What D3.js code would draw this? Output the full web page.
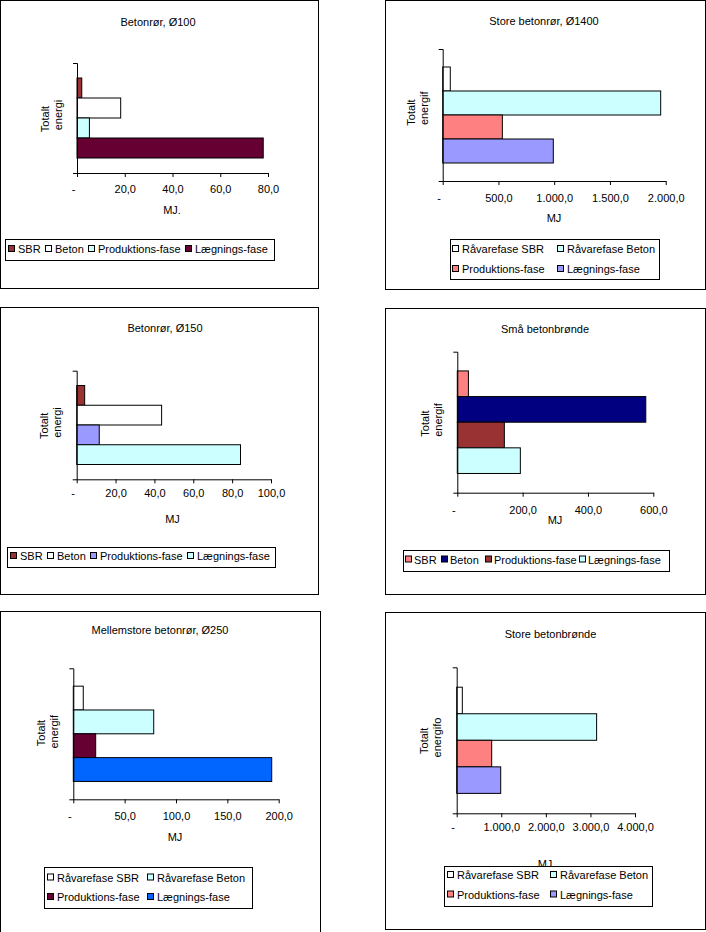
<!DOCTYPE html>
<html>
<head>
<meta charset="utf-8">
<script src="https://cdn.jsdelivr.net/npm/d3@7"></script>
<style>
body { margin: 0; background: #fff; }
svg text { font-family: "Liberation Sans", Arial, sans-serif; font-size: 11px; fill: #000; }
</style>
</head>
<body>
<div id="chart"></div>
<script>
// series names (two legend variants)
const seriesShort = ["SBR", "Beton", "Produktions-fase", "Lægnings-fase"];
const seriesLong = ["Råvarefase SBR", "Råvarefase Beton", "Produktions-fase", "Lægnings-fase"];

const titles = ["Betonrør, Ø100", "Store betonrør, Ø1400", "Betonrør, Ø150",
                "Små betonbrønde", "Mellemstore betonrør, Ø250", "Store betonbrønde"];
const yLabels = [["Totalt", "energi"], ["Totalt", "energif"], ["Totalt", "energi"],
                 ["Totalt", "energif"], ["Totalt", "energif"], ["Totalt", "energifo"]];
const xLabels = ["MJ.", "MJ", "MJ", "MJ", "MJ", "MJ"];

// values (MJ)
const valuesRor100 = [2.0, 18.3, 5.2, 78.0];
const valuesRor1400 = [68, 1955, 535, 992];
const valuesRor150 = [4.1, 43.7, 11.6, 84.3];
const valuesSmaaBronde = [34, 577, 144, 193];
const valuesRor250 = [9.7, 78.3, 21.8, 193.2];
const valuesStoreBronde = [126, 3139, 785, 987];

// x axis ticks
const ticksRor100 = [0, 20, 40, 60, 80];
const ticksRor1400 = [0, 500, 1000, 1500, 2000];
const ticksRor150 = [0, 20, 40, 60, 80, 100];
const ticksSmaaBronde = [0, 200, 400, 600];
const ticksRor250 = [0, 50, 100, 150, 200];
const ticksStoreBronde = [0, 1000, 2000, 3000, 4000];

// fills
const colorsRor100 = ["#993333", "#ffffff", "#ccffff", "#660033"];
const colorsRor1400 = ["#ffffff", "#ccffff", "#ff8080", "#9999ff"];
const colorsRor150 = ["#993333", "#ffffff", "#9999ff", "#ccffff"];
const colorsSmaaBronde = ["#ff8080", "#000080", "#993333", "#ccffff"];
const colorsRor250 = ["#ffffff", "#ccffff", "#660033", "#0066ff"];
const colorsStoreBronde = ["#ffffff", "#ccffff", "#ff8080", "#9999ff"];

const loc = d3.formatLocale({decimal: ",", thousands: ".", grouping: [3], currency: ["", ""]});
const fmt = loc.format(",.1f");

// layout of each chart on the page
const panels = [
  {series: seriesShort, values: valuesRor100, ticks: ticksRor100, colors: colorsRor100,
   frame: [0, 0, 318, 288], x0: 77, x1: 268, yTop: 63, yBot: 173, title: [158, 26], tickDy: 20,
   xLab: [172, 214], yLab: [49, 62, 119, 115],
   legend: {box: [5, 239, 274, 260], xs: [8, 45, 88, 185], ys: [253], gap: 10}},
  {series: seriesLong, values: valuesRor1400, ticks: ticksRor1400, colors: colorsRor1400,
   frame: [385, 0, 705, 289], x0: 442.7, x1: 665.7, yTop: 49, yBot: 181, title: [544, 25], tickDy: 21,
   xLab: [554, 221.5], yLab: [415, 428, 112.5, 108.3],
   legend: {box: [450, 239, 659, 279], cols: [452, 557], ys: [253, 273], gap: 10}},
  {series: seriesShort, values: valuesRor150, ticks: ticksRor150, colors: colorsRor150,
   frame: [0, 307, 318, 594], x0: 76.7, x1: 271, yTop: 370.7, yBot: 479.3, title: [165, 331.5], tickDy: 18,
   xLab: [172.5, 522.5], yLab: [48.3, 61, 425.8, 422.5],
   legend: {box: [7, 547, 275, 567], xs: [10, 47, 90, 187], ys: [560], gap: 10}},
  {series: seriesShort, values: valuesSmaaBronde, ticks: ticksSmaaBronde, colors: colorsSmaaBronde,
   frame: [385, 308, 705, 594], x0: 457.3, x1: 653.3, yTop: 351.7, yBot: 492.7, title: [545, 333], tickDy: 21,
   xLab: [555, 524], yLab: [429.3, 442, 423.5, 420],
   legend: {box: [403, 550, 669, 571], xs: [405, 441, 485, 579], ys: [563.5], gap: 9}},
  {series: seriesLong, values: valuesRor250, ticks: ticksRor250, colors: colorsRor250,
   frame: [0, 611, 320, 940], x0: 73.3, x1: 278.7, yTop: 668.3, yBot: 799.3, title: [160, 634], tickDy: 21,
   xLab: [175, 841], yLab: [45, 58, 733, 731.7],
   legend: {box: [44, 867, 252, 908], cols: [47, 147], ys: [881.5, 901], gap: 10}},
  {series: seriesLong, values: valuesStoreBronde, ticks: ticksStoreBronde, colors: colorsStoreBronde,
   frame: [385, 612, 705, 929], x0: 456.7, x1: 635, yTop: 667.3, yBot: 813.3, title: [550.5, 637.5], tickDy: 18,
   xLab: [545, 868], yLab: [428.3, 441, 740.8, 737.5],
   legend: {box: [444, 866, 652, 906], cols: [447, 550], ys: [879, 898.5], gap: 10}}
];

const svg = d3.select("#chart").append("svg")
  .attr("width", 706)
  .attr("height", 932);

panels.forEach(function(p, i) {
  let g = svg.append("g");

  // frame
  g.append("rect")
    .attr("x", p.frame[0] + 0.5).attr("y", p.frame[1] + 0.5)
    .attr("width", p.frame[2] - p.frame[0]).attr("height", p.frame[3] - p.frame[1])
    .attr("fill", "#fff").attr("stroke", "#000").attr("stroke-width", 1);

  g.append("text")
    .attr("x", p.title[0]).attr("y", p.title[1])
    .attr("text-anchor", "middle")
    .text(titles[i]);

  let x = d3.scaleLinear()
    .domain([0, d3.max(p.ticks)])
    .range([p.x0, p.x1]);

  let y = d3.scaleBand()
    .domain(p.series)
    .range([p.yTop, p.yBot])
    .paddingInner(0)
    .paddingOuter(0.75);

  let data = p.series.map((s, k) => ({name: s, value: p.values[k], color: p.colors[k]}));

  // bars
  g.append("g")
    .selectAll("rect")
    .data(data)
    .join("rect")
    .attr("x", x(0))
    .attr("y", d => y(d.name))
    .attr("width", d => x(d.value) - x(0))
    .attr("height", y.bandwidth())
    .attr("fill", d => d.color)
    .attr("stroke", "#000")
    .attr("stroke-width", 1);

  // x axis
  let xAxis = g.append("g")
    .attr("transform", "translate(0," + p.yBot + ")")
    .call(d3.axisBottom(x)
      .tickValues(p.ticks)
      .tickSize(4)
      .tickSizeOuter(0)
      .tickFormat(d => d === 0 ? "-" : fmt(d)));
  xAxis.select(".domain").attr("stroke", "#000");
  xAxis.selectAll(".tick line").attr("stroke", "#000");
  xAxis.selectAll(".tick text")
    .attr("y", p.tickDy).attr("dy", 0)
    .attr("x", d => d === 0 ? -4 : 0)
    .attr("font-family", null).attr("font-size", null);

  // y axis (single category: only the end ticks)
  let yAxis = g.append("g")
    .attr("transform", "translate(" + p.x0 + ",0)")
    .call(d3.axisLeft(y).tickValues([]).tickSizeOuter(4));
  yAxis.select(".domain").attr("stroke", "#000");

  // axis titles
  g.append("text")
    .attr("x", p.xLab[0]).attr("y", p.xLab[1])
    .attr("text-anchor", "middle")
    .text(xLabels[i]);

  yLabels[i].forEach(function(line, k) {
    let bx = p.yLab[k], cy = p.yLab[2 + k];
    g.append("text")
      .attr("transform", "translate(" + bx + "," + cy + ") rotate(-90)")
      .attr("text-anchor", "middle")
      .text(line);
  });

  // legend
  let L = p.legend;
  g.append("rect")
    .attr("x", L.box[0] + 0.5).attr("y", L.box[1] + 0.5)
    .attr("width", L.box[2] - L.box[0]).attr("height", L.box[3] - L.box[1])
    .attr("fill", "#fff").attr("stroke", "#000");

  let items = data.map(function(d, k) {
    if (L.xs) return {d: d, x: L.xs[k], y: L.ys[0]};
    return {d: d, x: L.cols[k % 2], y: L.ys[Math.floor(k / 2)]};
  });

  let leg = g.append("g").selectAll("g")
    .data(items)
    .join("g");
  leg.append("rect")
    .attr("x", d => d.x + 0.5).attr("y", d => d.y - 7.5)
    .attr("width", 6).attr("height", 6)
    .attr("fill", d => d.d.color).attr("stroke", "#000");
  leg.append("text")
    .attr("x", d => d.x + L.gap).attr("y", d => d.y)
    .text(d => d.d.name);
});
</script>
</body>
</html>
